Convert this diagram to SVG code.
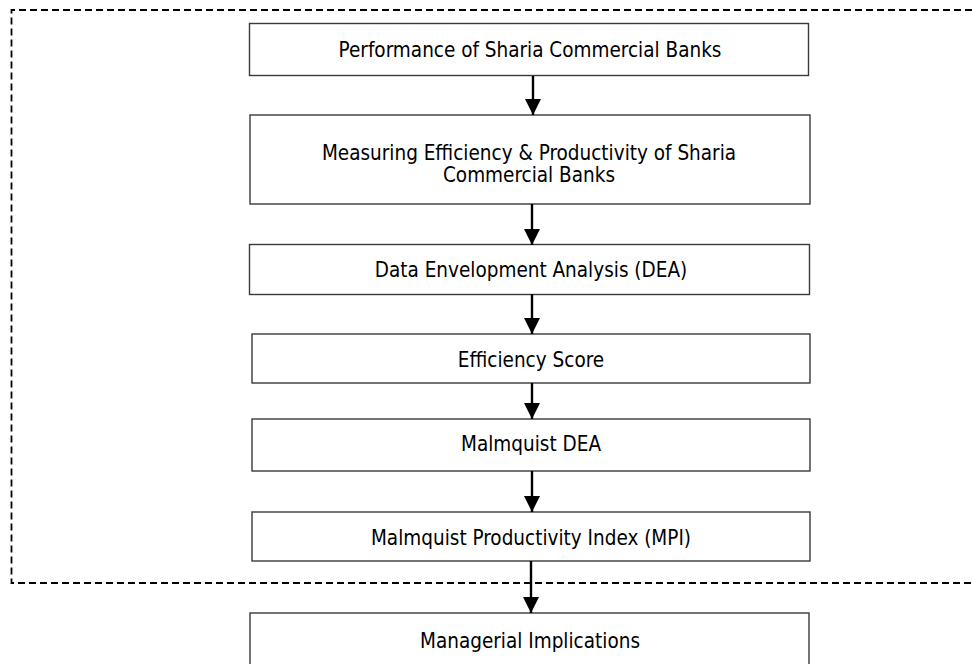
<svg xmlns="http://www.w3.org/2000/svg" width="972" height="664" viewBox="0 0 972 664">
  <style>
    .box { fill: #ffffff; stroke: #3a3a3a; stroke-width: 1.4; }
    .lbl { font-family: "DejaVu Sans Condensed", "DejaVu Sans", Verdana, sans-serif; font-stretch: condensed; font-size: 20.5px; fill: #000; text-anchor: middle; }
    .frame { fill: none; stroke: #000; stroke-width: 1.8; stroke-dasharray: 7 4; }
    .conn { stroke: #000; stroke-width: 2.4; fill: none; marker-end: url(#arrow); }
  </style>
  <defs>
    <marker id="arrow" viewBox="0 0 16 16" refX="16" refY="8" markerWidth="16" markerHeight="16" markerUnits="userSpaceOnUse" orient="auto">
      <path d="M0,0 L16,8 L0,16 Z" fill="#000"/>
    </marker>
  </defs>

  <!-- dashed boundary (open on the right side) -->
  <path class="frame" d="M972,10 H11.5 V583 H972"/>

  <g id="n1">
    <rect class="box" x="249.5" y="23.5" width="559" height="52"/>
    <text class="lbl" x="530" y="57">Performance of Sharia Commercial Banks</text>
  </g>
  <g id="n2">
    <rect class="box" x="250" y="115" width="560" height="89"/>
    <text class="lbl" x="529" y="159.5">Measuring Efficiency &amp; Productivity of Sharia</text>
    <text class="lbl" x="529" y="182">Commercial Banks</text>
  </g>
  <g id="n3">
    <rect class="box" x="249.5" y="244.5" width="560" height="50"/>
    <text class="lbl" x="531" y="276.5">Data Envelopment Analysis (DEA)</text>
  </g>
  <g id="n4">
    <rect class="box" x="252" y="334" width="558" height="49"/>
    <text class="lbl" x="531" y="366.5">Efficiency Score</text>
  </g>
  <g id="n5">
    <rect class="box" x="252" y="419" width="558" height="52"/>
    <text class="lbl" x="531" y="450.5">Malmquist DEA</text>
  </g>
  <g id="n6">
    <rect class="box" x="252" y="512" width="558" height="49"/>
    <text class="lbl" x="531" y="544.5">Malmquist Productivity Index (MPI)</text>
  </g>
  <g id="n7">
    <rect class="box" x="250" y="613" width="559" height="60"/>
    <text class="lbl" x="530" y="647.5">Managerial Implications</text>
  </g>

  <g id="connectors">
    <line class="conn" x1="533" y1="76" x2="533" y2="115"/>
    <line class="conn" x1="532" y1="204" x2="532" y2="245"/>
    <line class="conn" x1="532" y1="294" x2="532" y2="334"/>
    <line class="conn" x1="532" y1="383" x2="532" y2="419"/>
    <line class="conn" x1="532" y1="471" x2="532" y2="512"/>
    <line class="conn" x1="531" y1="561" x2="531" y2="613"/>
  </g>
</svg>
